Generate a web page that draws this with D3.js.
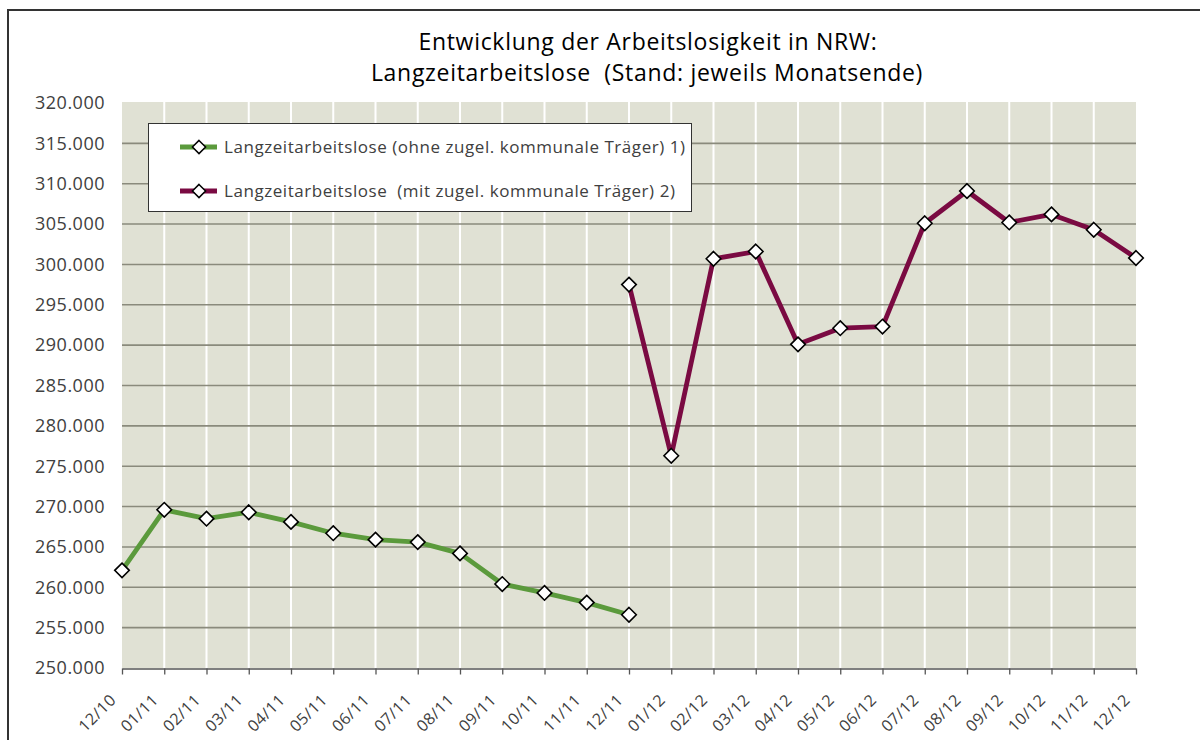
<html>
  <head>
    <script src="https://d3js.org/d3.v7.min.js"></script>
  </head>
  <style type="text/css">
    body { margin: 0; background: #fff; }
    svg { font-family: "Open Sans", "Noto Sans", sans-serif; }
    text { white-space: pre; }
    .ytick { font-size: 18px; fill: #404040; letter-spacing: 0.5px; }
    .xtick { font-size: 16px; fill: #404040; letter-spacing: 0.5px; }
    .title { font-size: 23px; fill: #000; letter-spacing: 0.7px; }
    .legend-text { font-size: 17px; fill: #404040; letter-spacing: 0.55px; }
  </style>
  <body>
    <div id="chart"></div>
  </body>
  <script type="text/javascript">
    var months = ["12/10", "01/11", "02/11", "03/11", "04/11", "05/11", "06/11", "07/11", "08/11",
      "09/11", "10/11", "11/11", "12/11", "01/12", "02/12", "03/12", "04/12", "05/12", "06/12",
      "07/12", "08/12", "09/12", "10/12", "11/12", "12/12"];

    // ohne zugel. kommunale Traeger (12/10 - 12/11)
    var ohneValues = [262100, 269600, 268500, 269300, 268100, 266700, 265900, 265600, 264200,
      260400, 259300, 258100, 256600, null, null, null, null, null, null, null, null, null, null, null, null];

    // mit zugel. kommunale Traeger (12/11 - 12/12)
    var mitValues = [null, null, null, null, null, null, null, null, null, null, null, null,
      297500, 276300, 300700, 301600, 290100, 292100, 292300, 305100, 309100, 305200, 306200, 304300, 300800];

    var yTicks = [250000, 255000, 260000, 265000, 270000, 275000, 280000, 285000, 290000,
      295000, 300000, 305000, 310000, 315000, 320000];

    var seriesNames = ["Langzeitarbeitslose (ohne zugel. kommunale Träger) 1)",
      "Langzeitarbeitslose  (mit zugel. kommunale Träger) 2)"];
    var seriesColors = ["#5b9a3c", "#7a0a42"];

    var width = 1200, height = 740;
    var plotLeft = 122, plotRight = 1136, plotTop = 103, plotBottom = 668;

    var de = d3.formatLocale({decimal: ",", thousands: ".", grouping: [3], currency: ["", " €"]});
    var fmt = de.format(",");

    var svg = d3.select("#chart").append("svg")
      .attr("width", width)
      .attr("height", height);

    /* outer frame (left + top edges visible) */
    svg.append("path")
      .attr("d", `M8,${height + 5} L8,10 L${width + 5},10`)
      .attr("fill", "none")
      .attr("stroke", "#333")
      .attr("stroke-width", 2);

    var xScale = d3.scalePoint().domain(months).range([plotLeft, plotRight]);
    var yScale = d3.scaleLinear().domain([250000, 320000]).range([plotBottom, plotTop]);

    /* plot area */
    svg.append("rect")
      .attr("x", plotLeft).attr("y", plotTop - 1)
      .attr("width", plotRight - plotLeft).attr("height", plotBottom - plotTop + 1)
      .attr("fill", "#e0e1d4");

    /* vertical white grid */
    svg.append("g").selectAll("line")
      .data(months.slice(1, -1)).enter()
      .append("line")
      .attr("x1", d => xScale(d)).attr("x2", d => xScale(d))
      .attr("y1", plotTop - 1).attr("y2", plotBottom)
      .attr("stroke", "#fff").attr("stroke-width", 2);

    /* horizontal grid */
    svg.append("g").selectAll("line")
      .data(yTicks.slice(1, -1)).enter()
      .append("line")
      .attr("x1", plotLeft).attr("x2", plotRight)
      .attr("y1", d => yScale(d)).attr("y2", d => yScale(d))
      .attr("stroke", "#8a8a7c").attr("stroke-width", 1.6);

    /* y labels */
    svg.append("g").selectAll("text")
      .data(yTicks).enter()
      .append("text")
      .attr("class", "ytick")
      .attr("x", plotLeft - 17)
      .attr("y", d => yScale(d))
      .attr("dy", "0.35em")
      .attr("text-anchor", "end")
      .text(d => fmt(d));

    /* x axis */
    var xAxis = d3.axisBottom(xScale).tickSize(6).tickSizeOuter(0).tickFormat("");
    var gx = svg.append("g")
      .attr("transform", `translate(0, ${plotBottom + 0.5})`)
      .call(xAxis);
    gx.select(".domain").attr("stroke", "#555").attr("stroke-width", 1.3);
    gx.selectAll(".tick line").attr("stroke", "#555").attr("stroke-width", 1.3);

    svg.append("g").selectAll("text")
      .data(months).enter()
      .append("text")
      .attr("class", "xtick")
      .attr("text-anchor", "end")
      .attr("transform", d => `translate(${xScale(d) - 5}, ${plotBottom + 33}) rotate(-45)`)
      .text(d => d);

    /* lines */
    var line = d3.line()
      .defined(d => d.v != null)
      .x(d => xScale(d.m))
      .y(d => yScale(d.v));

    var diamond = d3.symbol().type(d3.symbolDiamond2).size(135);

    [ohneValues, mitValues].forEach(function(vals, i) {
      var pts = months.map((m, j) => ({m: m, v: vals[j]}));
      svg.append("path")
        .datum(pts)
        .attr("d", line)
        .attr("fill", "none")
        .attr("stroke", seriesColors[i])
        .attr("stroke-width", 4.8)
        .attr("stroke-linejoin", "round");
      svg.append("g").selectAll("path")
        .data(pts.filter(d => d.v != null)).enter()
        .append("path")
        .attr("d", diamond)
        .attr("transform", d => `translate(${xScale(d.m)}, ${yScale(d.v)})`)
        .attr("fill", "#fff")
        .attr("stroke", "#000")
        .attr("stroke-width", 1.6);
    });

    /* legend */
    var legend = svg.append("g");
    legend.append("rect")
      .attr("x", 148.5).attr("y", 123.5)
      .attr("width", 543).attr("height", 88)
      .attr("fill", "#fff")
      .attr("stroke", "#333").attr("stroke-width", 1);

    seriesNames.forEach(function(name, i) {
      var ly = 147 + i * 44;
      legend.append("line")
        .attr("x1", 180).attr("x2", 217)
        .attr("y1", ly).attr("y2", ly)
        .attr("stroke", seriesColors[i]).attr("stroke-width", 4.8);
      legend.append("path")
        .attr("d", d3.symbol().type(d3.symbolDiamond2).size(110))
        .attr("transform", `translate(199, ${ly})`)
        .attr("fill", "#fff").attr("stroke", "#000").attr("stroke-width", 1.5);
      legend.append("text")
        .attr("class", "legend-text")
        .attr("x", 224).attr("y", ly)
        .attr("dy", "0.35em")
        .text(name);
    });

    /* title */
    svg.append("text")
      .attr("class", "title")
      .attr("x", 648).attr("y", 50)
      .attr("text-anchor", "middle")
      .text("Entwicklung der Arbeitslosigkeit in NRW:");
    svg.append("text")
      .attr("class", "title")
      .attr("x", 647).attr("y", 81)
      .attr("text-anchor", "middle")
      .text("Langzeitarbeitslose  (Stand: jeweils Monatsende)");
  </script>
</html>
